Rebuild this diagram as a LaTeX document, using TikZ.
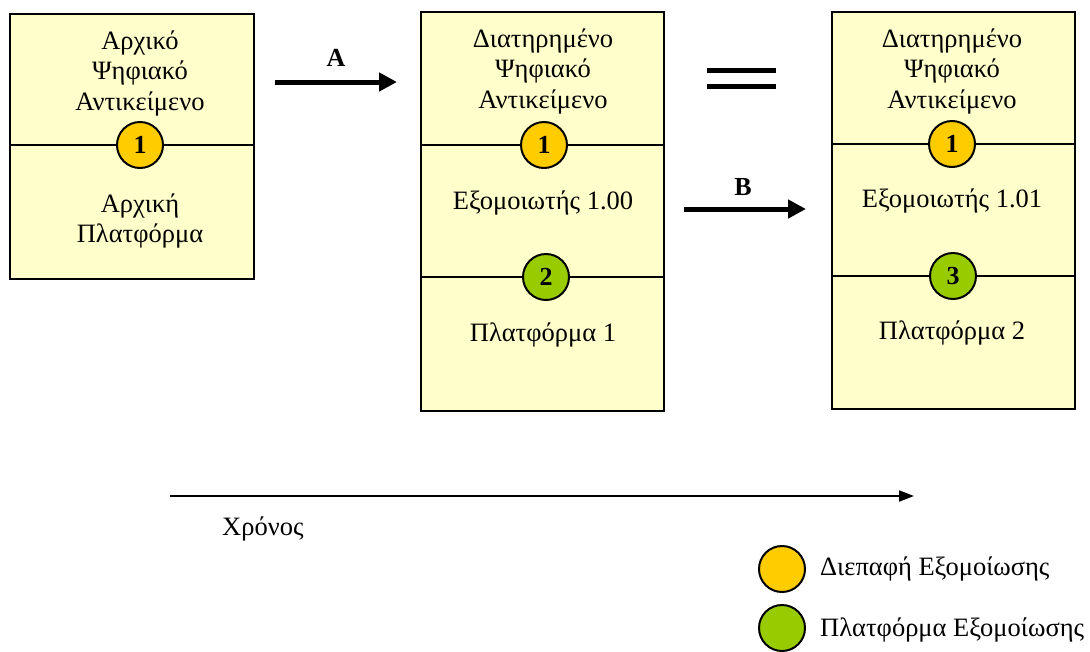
\documentclass[tikz,border=0pt]{standalone}
\usepackage{fontspec}
\setmainfont{Liberation Serif}
\usetikzlibrary{arrows.meta}
\definecolor{boxfill}{HTML}{FFFFCC}
\definecolor{ifacecol}{HTML}{FFCC00}
\definecolor{platcol}{HTML}{99CC00}
\begin{document}
\begin{tikzpicture}[x=1pt,y=-1pt,
  part/.style={draw=black,line width=2pt,fill=boxfill},
  lbl/.style={font=\fontsize{26.5}{30.5}\selectfont,align=center,inner sep=0pt},
  badge/.style={circle,draw=black,line width=2pt,minimum size=46pt,inner sep=0pt,
    font=\fontsize{26}{26}\selectfont\bfseries},
  flow/.style={line width=5pt,-{Triangle[length=18pt,width=18pt]}},
  tag/.style={font=\fontsize{26}{26}\selectfont\bfseries,inner sep=0pt}]
\useasboundingbox (0,0) rectangle (1090,651);

% original object on its platform
\path[part] (10,14) rectangle (254,145);
\path[part] (10,145) rectangle (254,279);
\node[lbl] (o1) at (140,73) {Αρχικό\\Ψηφιακό\\Αντικείμενο};
\node[lbl] (o2) at (140,221) {Αρχική\\Πλατφόρμα};
\node[badge,fill=ifacecol] (oi) at (140,145) {1};

% preserved object on emulator 1.00
\path[part] (421,12) rectangle (664,145);
\path[part] (421,145) rectangle (664,277);
\path[part] (421,277) rectangle (664,411);
\node[lbl] (p1) at (543,71) {Διατηρημένο\\Ψηφιακό\\Αντικείμενο};
\node[lbl] (p2) at (543,203) {Εξομοιωτής 1.00};
\node[lbl] (p3) at (543,335) {Πλατφόρμα 1};
\node[badge,fill=ifacecol] (pi) at (544,145) {1};
\node[badge,fill=platcol] (pp) at (546,277) {2};

% preserved object on emulator 1.01
\path[part] (832,12) rectangle (1075,144);
\path[part] (832,144) rectangle (1075,276);
\path[part] (832,276) rectangle (1075,409);
\node[lbl] (q1) at (952,71) {Διατηρημένο\\Ψηφιακό\\Αντικείμενο};
\node[lbl] (q2) at (952,201) {Εξομοιωτής 1.01};
\node[lbl] (q3) at (952,333) {Πλατφόρμα 2};
\node[badge,fill=ifacecol] (qi) at (952,144) {1};
\node[badge,fill=platcol] (qp) at (953,276) {3};

% transitions
\coordinate (a0) at (275,82);
\coordinate (a1) at (397,82);
\draw[flow] (a0) -- (a1);
\node[tag] (at) at (336,58) {A};
\coordinate (b0) at (684,209);
\coordinate (b1) at (806,209);
\draw[flow] (b0) -- (b1);
\node[tag] (bt) at (743,187) {B};

% equivalence sign
\coordinate (e1) at (707,70);
\coordinate (e2) at (776,70);
\coordinate (e3) at (707,86);
\coordinate (e4) at (776,86);
\draw[line width=5pt] (e1) -- (e2);
\draw[line width=5pt] (e3) -- (e4);

% time axis
\coordinate (t0) at (170,496);
\coordinate (t1) at (914,496);
\draw[line width=2pt,-{Triangle[length=15pt,width=11pt]}] (t0) -- (t1);
\node[lbl,anchor=west] (tl) at (222,529) {Χρόνος};

% legend
\node[badge,fill=ifacecol] (k1) at (782,569) {};
\node[lbl,anchor=west] (k1t) at (820,569) {Διεπαφή Εξομοίωσης};
\node[badge,fill=platcol] (k2) at (782,628) {};
\node[lbl,anchor=west] (k2t) at (820,630) {Πλατφόρμα Εξομοίωσης};
\end{tikzpicture}
\end{document}
